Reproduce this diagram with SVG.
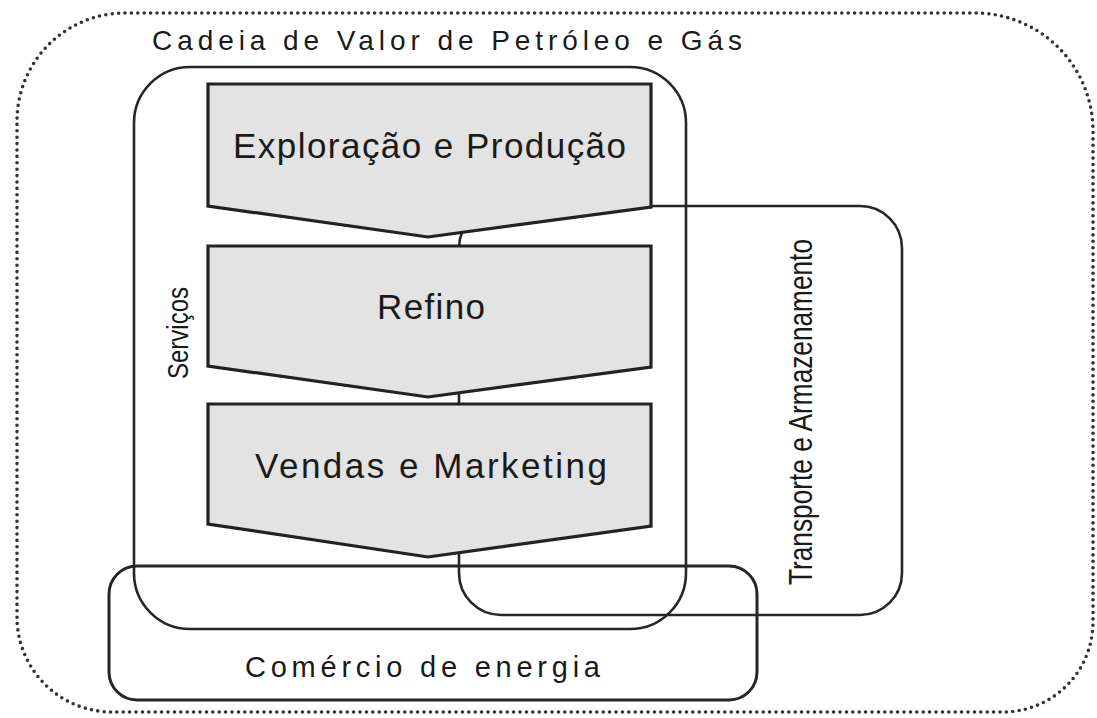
<svg xmlns="http://www.w3.org/2000/svg" width="1097" height="718" viewBox="0 0 1097 718">
<style>
.box{fill:none;stroke:#262626;stroke-width:2.6}
.chev{fill:#e3e3e3;stroke:#222;stroke-width:3.2;stroke-linejoin:miter}
.dots{fill:none;stroke:#333;stroke-width:3.6;stroke-linecap:round;stroke-dasharray:0 6.4}
.lbl{font-family:"Liberation Sans",Arial,sans-serif;fill:#1a1a1a}
.nar{font-family:"Liberation Sans Narrow","Liberation Sans",Arial,sans-serif;fill:#1a1a1a}
</style>
<rect width="1097" height="718" fill="#ffffff"/>
<g id="outer">
<path class="dots" d="M125,13 L975,13 A118,118 0 0 1 1093,131 L1093,622 A90,90 0 0 1 1003,712 L112,712 A95,95 0 0 1 17,617 L17,121 A108,108 0 0 1 125,13 Z"/>
<text class="lbl" x="152" y="50" font-size="28" textLength="590" lengthAdjust="spacing">Cadeia de Valor de Petróleo e Gás</text>
</g>
<g id="servicos">
<rect class="box" x="134" y="67" width="552" height="562" rx="56" ry="56"/>
<text class="nar" transform="translate(188,333) rotate(-90)" font-size="29" text-anchor="middle" textLength="92" lengthAdjust="spacingAndGlyphs">Serviços</text>
</g>
<g id="transporte">
<rect class="box" x="459" y="206" width="443" height="409" rx="42" ry="42"/>
<text class="nar" transform="translate(812,412) rotate(-90)" font-size="34" text-anchor="middle" textLength="346" lengthAdjust="spacingAndGlyphs">Transporte e Armazenamento</text>
</g>
<g id="exploracao">
<path class="chev" d="M208,84 L651,84 L651,207 L428,237 L208,206 Z"/>
<text class="lbl" x="233" y="158" font-size="35" textLength="393" lengthAdjust="spacing">Exploração e Produção</text>
</g>
<g id="refino">
<path class="chev" d="M208,246 L651,246 L651,367 L428,397 L208,366 Z"/>
<text class="lbl" x="377" y="319" font-size="35" textLength="108" lengthAdjust="spacing">Refino</text>
</g>
<g id="vendas">
<path class="chev" d="M208,404 L651,404 L651,526 L428,557 L208,524 Z"/>
<text class="lbl" x="255" y="478" font-size="35" textLength="352" lengthAdjust="spacing">Vendas e Marketing</text>
</g>
<g id="comercio">
<rect class="box" x="109" y="566" width="648" height="134" rx="28" ry="28" style="stroke-width:3"/>
<text class="lbl" x="245" y="677" font-size="29" textLength="355" lengthAdjust="spacing">Comércio de energia</text>
</g>
<g id="connectors"></g>
</svg>
